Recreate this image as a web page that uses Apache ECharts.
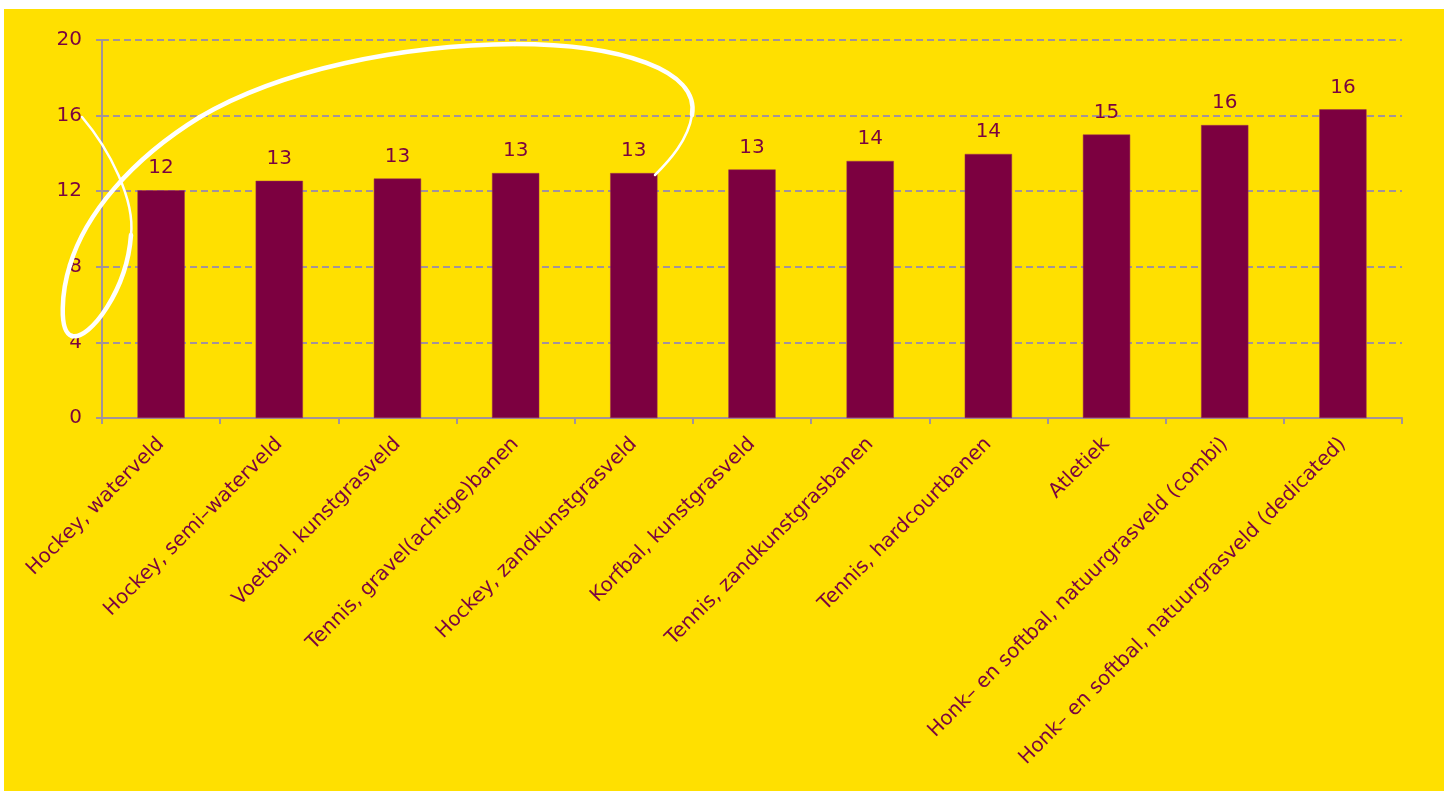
<!DOCTYPE html>
<html>
<head>
<meta charset="utf-8">
<script src="https://cdn.jsdelivr.net/npm/echarts@6/dist/echarts.min.js"></script>
<style>
html,body{margin:0;padding:0;background:#ffffff;}
#bg{position:absolute;left:4px;top:9px;width:1440px;height:782px;background:#FFE000;}
#chart{position:absolute;left:0;top:0;width:1448px;height:791px;}
</style>
</head>
<body>
<div id="bg"></div>
<div id="chart"></div>
<script>
const categories = [
  "Hockey, waterveld",
  "Hockey, semi–waterveld",
  "Voetbal, kunstgrasveld",
  "Tennis, gravel(achtige)banen",
  "Hockey, zandkunstgrasveld",
  "Korfbal, kunstgrasveld",
  "Tennis, zandkunstgrasbanen",
  "Tennis, hardcourtbanen",
  "Atletiek",
  "Honk– en softbal, natuurgrasveld (combi)",
  "Honk– en softbal, natuurgrasveld (dedicated)"
];
const values = [12.05, 12.55, 12.67, 12.96, 12.96, 13.15, 13.6, 13.97, 15.0, 15.5, 16.33];
const yTicks = [0, 4, 8, 12, 16, 20];

const textColor = '#7A0440';
const axisColor = '#A3939A';
const fontFam = '"DejaVu Sans", Verdana, sans-serif';

// decorative hand-drawn loop (annotation, not data)
const loopSegments = [
  [82,117, 110,150, 135,200, 131,235],
  [131,235, 127,290, 90,340, 72,336],
  [72,336, 58,332, 62,290, 70,265],
  [70,265, 85,215, 130,160, 200,117],
  [200,117, 280,70, 400,45, 515,44],
  [515,44, 620,44, 700,70, 692,115],
  [692,115, 688,140, 670,160, 655,175]
];

const chart = echarts.init(document.getElementById('chart'), null, {renderer: 'canvas'});
chart.setOption({
  backgroundColor: 'transparent',
  animation: false,
  grid: {left: 102, right: 46, top: 40, bottom: 373, containLabel: false},
  xAxis: {
    type: 'category',
    data: categories,
    axisLine: {show: true, lineStyle: {color: axisColor, width: 2}},
    axisTick: {show: true, length: 6, lineStyle: {color: axisColor, width: 2}},
    axisLabel: {rotate: 45, color: textColor, fontSize: 20, fontFamily: fontFam, margin: 23, interval: 0}
  },
  yAxis: {
    type: 'value',
    min: yTicks[0],
    max: yTicks[yTicks.length - 1],
    interval: 4,
    axisLine: {show: true, lineStyle: {color: axisColor, width: 2}},
    axisTick: {show: true, length: 6, lineStyle: {color: axisColor, width: 2}},
    axisLabel: {color: textColor, fontSize: 20, fontFamily: fontFam, margin: 20},
    splitLine: {show: true, lineStyle: {color: axisColor, width: 2, type: [7, 4]}}
  },
  series: [{
    type: 'bar',
    data: values,
    barWidth: '40%',
    itemStyle: {color: '#7C0040', borderColor: '#9A3050', borderWidth: 0.5},
    label: {
      show: true,
      position: 'top',
      distance: 12,
      color: textColor,
      fontSize: 20,
      fontFamily: fontFam,
      formatter: p => Math.round(p.value)
    }
  }],
  graphic: loopSegments.map((s, i) => ({
    type: 'bezierCurve',
    z: 100,
    silent: true,
    shape: {x1: s[0], y1: s[1], cpx1: s[2], cpy1: s[3], cpx2: s[4], cpy2: s[5], x2: s[6], y2: s[7]},
    style: {fill: 'none', stroke: '#FFFFFF', lineWidth: (i === 0 || i === loopSegments.length - 1) ? 2.5 : 4.5, lineCap: 'round'}
  }))
});
</script>
</body>
</html>
